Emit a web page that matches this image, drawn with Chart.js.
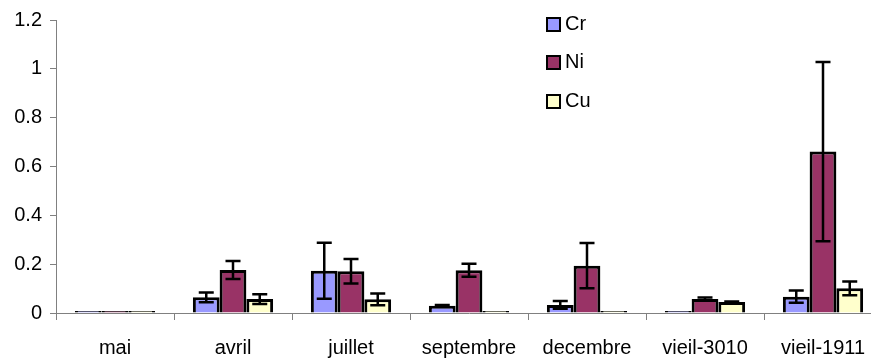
<!DOCTYPE html>
<html>
<head>
<meta charset="utf-8">
<script src="https://cdn.jsdelivr.net/npm/chart.js@4.4.1/dist/chart.umd.min.js"></script>
<style>
  html, body { margin: 0; padding: 0; background: #fff; overflow: hidden; }
  #wrap { position: relative; width: 884px; height: 362px; }
  #legend { position: absolute; left: 546px; top: 0; font-family: "Liberation Sans", Arial, sans-serif; font-size: 20px; color: #000; }
  #legend .item { position: absolute; left: 0; height: 20px; line-height: 20px; white-space: nowrap; }
  #legend .box { position: absolute; left: 0; top: 3px; width: 11px; height: 11px; border: 2px solid #000; }
  #legend .lbl { position: absolute; left: 19px; top: -1px; }
</style>
</head>
<body>
<div id="wrap">
  <canvas id="chart" width="884" height="362"></canvas>
  <div id="legend"></div>
</div>
<script>
// données
const categories = ['mai', 'avril', 'juillet', 'septembre', 'decembre', 'vieil-3010', 'vieil-1911'];
const crValues = [0.006, 0.064, 0.173, 0.030, 0.033, 0.002, 0.067];
const niValues = [0.006, 0.176, 0.171, 0.175, 0.194, 0.057, 0.661];
const cuValues = [0.008, 0.057, 0.056, 0.002, 0.002, 0.045, 0.101];
const crErrors = [0, 0.020, 0.115, 0.003, 0.016, 0, 0.025];
const niErrors = [0, 0.037, 0.050, 0.027, 0.093, 0.006, 0.367];
const cuErrors = [0, 0.020, 0.024, 0, 0, 0.002, 0.028];
const seriesNames = ['Cr', 'Ni', 'Cu'];
const seriesColors = ['#9999FF', '#993366', '#FFFFCC'];

const FONT = '"Liberation Sans", Arial, sans-serif';

// barres d'erreur dessinées à partir des échelles
const errorBars = {
    id: 'errorBars',
    afterDatasetsDraw(chart) {
        const ctx = chart.ctx;
        const yScale = chart.scales.y;
        ctx.save();
        ctx.strokeStyle = '#000';
        ctx.lineWidth = 2.5;
        chart.data.datasets.forEach((ds, i) => {
            const meta = chart.getDatasetMeta(i);
            meta.data.forEach((bar, j) => {
                const err = ds.errors[j];
                if (!err) return;
                const v = ds.data[j];
                const yTop = yScale.getPixelForValue(v + err);
                const yBot = yScale.getPixelForValue(v - err);
                const x = bar.x;
                const half = 7.5;
                ctx.beginPath();
                ctx.moveTo(x, yTop); ctx.lineTo(x, yBot);
                ctx.moveTo(x - half, yTop); ctx.lineTo(x + half, yTop);
                ctx.moveTo(x - half, yBot); ctx.lineTo(x + half, yBot);
                ctx.stroke();
            });
        });
        ctx.restore();
    }
};

const allValues = [crValues, niValues, cuValues];
const allErrors = [crErrors, niErrors, cuErrors];

new Chart(document.getElementById('chart'), {
    type: 'bar',
    data: {
        labels: categories,
        datasets: seriesNames.map((name, i) => ({
            label: name,
            data: allValues[i],
            errors: allErrors[i],
            backgroundColor: seriesColors[i],
            borderColor: '#000',
            borderWidth: 3,
            minBarLength: 2,
            barPercentage: 1,
            categoryPercentage: 0.68
        }))
    },
    options: {
        responsive: false,
        animation: false,
        layout: { padding: { top: 20, right: 2, left: 0, bottom: 0 } },
        plugins: {
            legend: { display: false },
            tooltip: { enabled: false }
        },
        scales: {
            x: {
                afterFit: (scale) => { scale.height = 49; },
                grid: { offset: true, drawOnChartArea: false, drawTicks: true, tickLength: 7, color: '#808080', lineWidth: 1 },
                border: { display: true, color: '#808080', width: 1 },
                ticks: { color: '#000', font: { family: FONT, size: 20 }, padding: 16, maxRotation: 0, autoSkip: false }
            },
            y: {
                min: 0,
                max: 1.2,
                afterFit: (scale) => { scale.width = 56; },
                grid: { drawOnChartArea: false, drawTicks: true, tickLength: 6, color: '#808080' },
                border: { display: true, color: '#808080', width: 1 },
                ticks: {
                    stepSize: 0.2,
                    color: '#000',
                    font: { family: FONT, size: 20 },
                    padding: 8,
                    callback: (v) => String(Math.round(v * 10) / 10)
                }
            }
        }
    },
    plugins: [errorBars]
});

// légende verticale dans la zone du graphique
const legendTops = [14, 52, 91];
const legendEl = document.getElementById('legend');
seriesNames.forEach((name, i) => {
    const item = document.createElement('div');
    item.className = 'item';
    item.style.top = legendTops[i] + 'px';
    item.innerHTML = `<span class="box" style="background:${seriesColors[i]}"></span><span class="lbl">${name}</span>`;
    legendEl.appendChild(item);
});
</script>
</body>
</html>
